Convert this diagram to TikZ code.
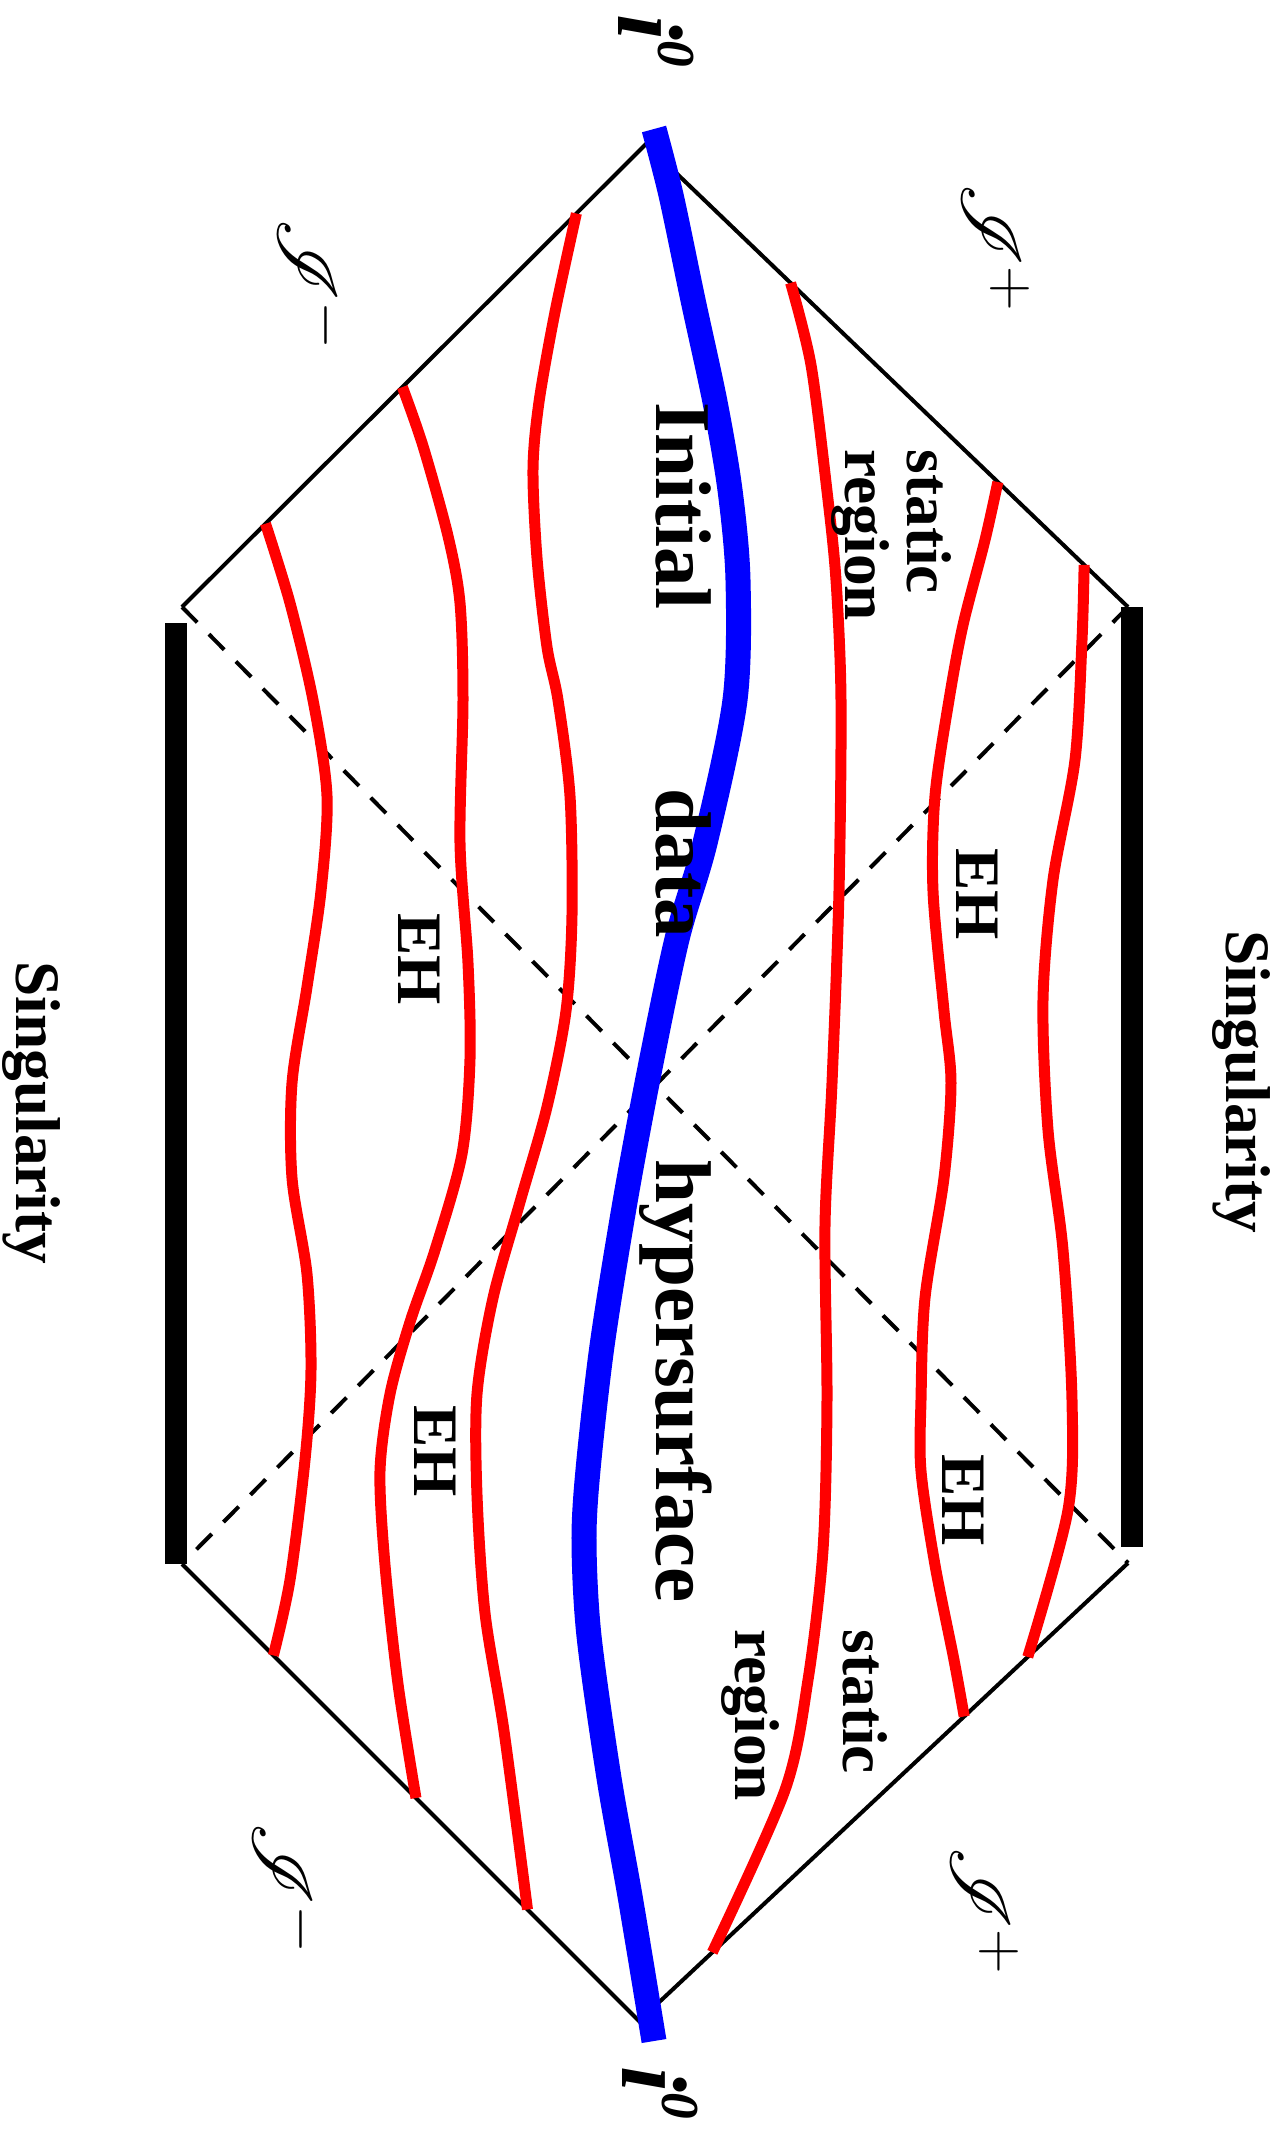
\documentclass[tikz,border=0pt]{standalone}
\usepackage{fix-cm}
\usepackage[no-math]{fontspec}
\setmainfont{Liberation Serif}
\usepackage{mathrsfs}
\usetikzlibrary{calc}

\begin{document}
\begin{tikzpicture}[x=0.3pt, y=-0.3pt,
      bnd/.style={line width=1.2pt},
      hz/.style={line width=1.2pt, dash pattern=on 6.5pt off 5pt},
      sng/.style={line width=6.8pt},
      slc/.style={red, line width=3.3pt},
      ini/.style={blue, line width=7.5pt},
      lbl/.style={rotate=-90, anchor=base west, inner sep=0pt,
        font=\fontsize{19}{19}\selectfont\bfseries},
      big/.style={lbl, font=\fontsize{23.7}{24}\selectfont\bfseries},
      scr/.style={rotate=-90, anchor=base west, inner sep=0pt,
        font=\fontsize{26.5}{27}\selectfont},
      inf/.style={rotate=-90, anchor=base west, inner sep=0pt,
        font=\fontsize{28}{28}\selectfont\bfseries\itshape},
    ]
    \useasboundingbox (0,0) rectangle (1286,2141);
    \coordinate (T) at (646,144);
    \coordinate (B) at (639,2021);
    \coordinate (UL) at (182,607);
    \coordinate (LL) at (182,1564);
    \coordinate (UR) at (1128,607);
    \coordinate (LR) at (1128,1563);
    \draw[bnd] (UL) -- (T) -- (UR);
    \draw[bnd] (LL) -- (B) -- (LR);
    \draw[hz] (UL) -- (LR);
    \draw[hz] (UR) -- (LL);
    \draw[sng] (176,623) -- (176,1564);
    \draw[sng] (1132,607) -- (1132,1547);
    \coordinate (a1) at ($(T)!0.909!(UR)$);
    \coordinate (a2) at ($(LR)!0.205!(B)$);
    \coordinate (b1) at ($(T)!0.73!(UR)$);
    \coordinate (b2) at ($(LR)!0.335!(B)$);
    \coordinate (c1) at ($(T)!0.30!(UR)$);
    \coordinate (c2) at ($(LR)!0.85!(B)$);
    \coordinate (e1) at ($(T)!0.15!(UL)$);
    \coordinate (e2) at ($(LL)!0.756!(B)$);
    \coordinate (f1) at ($(T)!0.525!(UL)$);
    \coordinate (f2) at ($(LL)!0.512!(B)$);
    \coordinate (g1) at ($(T)!0.82!(UL)$);
    \coordinate (g2) at ($(LL)!0.2!(B)$);
    \draw[slc] plot[smooth] coordinates {(a1) (1082,640) (1075,760) (1053,880)
      (1043,1000) (1048,1130) (1063,1250) (1072,1400) (1068,1510) (a2)};
    \draw[slc] plot[smooth] coordinates {(b1) (985,540) (963,625) (949,700)
      (935,796) (933,891) (944,1011) (951,1083) (944,1178) (925,1298) (921,1400)
      (921,1471) (935,1565) (954,1660) (b2)};
    \draw[slc] plot[smooth] coordinates {(c1) (811,365) (827,491) (836,580)
      (841,700) (839,891) (832,1083) (825,1226) (827,1400) (823,1550) (808,1680)
      (785,1790) (c2)};
    \draw[slc] plot[smooth] coordinates {(e1) (555,312) (539,402) (533,469)
      (537,558) (547,647) (558,700) (570,796) (572,915) (566,1011) (547,1107)
      (520,1202) (493,1298) (477,1394) (477,1495) (485,1613) (504,1731) (e2)};
    \draw[slc] plot[smooth] coordinates {(f1) (423,446) (448,536) (460,603)
      (463,700) (460,843) (468,963) (470,1059) (462,1154) (435,1250) (410,1322)
      (390,1394) (380,1471) (385,1565) (398,1684) (f2)};
    \draw[slc] plot[smooth] coordinates {(g1) (290,603) (313,700) (327,796)
      (321,891) (307,987) (292,1083) (292,1178) (307,1274) (311,1370) (305,1460)
      (290,1580) (g2)};
    \draw[ini] plot[smooth] coordinates {(654,129) (671,195) (693,300) (715,402)
      (730,490) (738,580) (735,700) (705,843) (677,939) (649,1073) (625,1202)
      (602,1346) (588,1470) (584,1542) (589,1636) (609,1778) (630,1896) (654,2041)};
    \node[big] (w1) at (656,402) {Initial};
    \node[big] (w2) at (656,788) {data};
    \node[big] (w3) at (656,1159) {hypersurface};
    \node[lbl] (st1) at (907,449) {static};
    \node[lbl] (rg1) at (845,449) {region};
    \node[lbl] (st2) at (843,1629) {static};
    \node[lbl] (rg2) at (735,1629) {region};
    \node[lbl] (eh1) at (956,848) {EH};
    \node[lbl] (eh2) at (398,913) {EH};
    \node[lbl] (eh3) at (414,1405) {EH};
    \node[lbl] (eh4) at (942,1454) {EH};
    \node[lbl] (sgr) at (1226,930) {Singularity};
    \node[lbl] (sgl) at (17,961) {Singularity};
    \node[scr] (ipt) at (962,183) {$\mathscr{I}^+$};
    \node[scr] (ipb) at (951,1846) {$\mathscr{I}^+$};
    \node[scr] (imt) at (278,218) {$\mathscr{I}^-$};
    \node[scr] (imb) at (253,1822) {$\mathscr{I}^-$};
    \node[inf] (i0t) at (618,14) {i\raisebox{12pt}{\fontsize{16}{16}\selectfont 0}};
    \node[inf] (i0b) at (622,2066) {i\raisebox{12pt}{\fontsize{16}{16}\selectfont 0}};
  \end{tikzpicture}
\end{document}
